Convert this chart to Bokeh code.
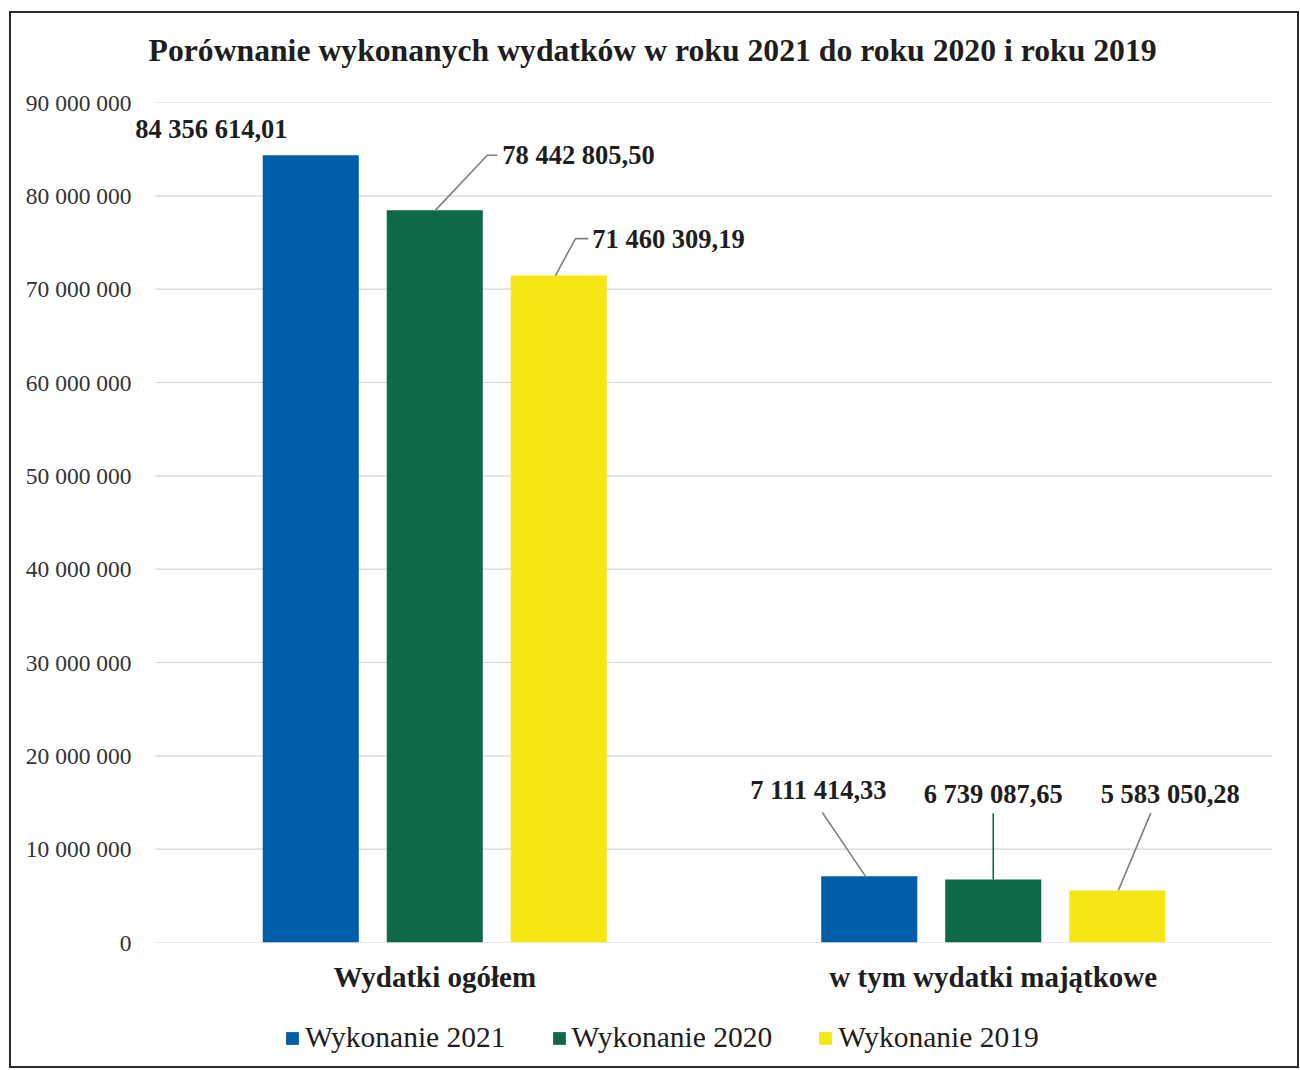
from bokeh.plotting import figure
from bokeh.models import ColumnDataSource, FixedTicker, Legend, LegendItem, LabelSet, Label
from bokeh.layouts import column
from bokeh.embed import file_html
from bokeh.resources import INLINE

# ---------------- data ----------------
title_text = "Porównanie wykonanych wydatków w roku 2021 do roku 2020 i roku 2019"
categories = ["Wydatki ogółem", "w tym wydatki majątkowe"]
series_names = ["Wykonanie 2021", "Wykonanie 2020", "Wykonanie 2019"]
values_2021 = [84356614.01, 7111414.33]
values_2020 = [78442805.50, 6739087.65]
values_2019 = [71460309.19, 5583050.28]
y_ticks = [0, 10000000, 20000000, 30000000, 40000000, 50000000,
           60000000, 70000000, 80000000, 90000000]
y_tick_labels = ["0", "10 000 000", "20 000 000", "30 000 000", "40 000 000",
                 "50 000 000", "60 000 000", "70 000 000", "80 000 000", "90 000 000"]

# ---------------- styles ----------------
colors = ["#005EA8", "#0E6946", "#F6E614"]
dodge = [-0.222, 0.0, 0.222]
bar_width = 0.172
SERIF = "Liberation Serif"
TXT = "#1e1e1e"
GRID = "#d4d4d4"
x_pad_left = 0.0448   # extra room left of the gridlines (category units)
W = 1286
MB_L, MB_R = 119, 25

# label placement offsets (x in category units, y in value units), per series, per category
label_dx = [[-0.178, -0.091], [0.121, 0.0], [0.060, 0.095]]
label_dy = [[2.85e6, 9.18e6], [5.9e6, 9.22e6], [3.95e6, 10.38e6]]
label_align = [["center", "center"], ["left", "center"], ["left", "center"]]
# leaders: (series, category, start dx from bar centre, end dx from label, end dy from label, elbow end dx or None)
leaders = [
    (1, 0, 0.001, -0.027, 0.0, -0.009),
    (2, 0, -0.006, -0.030, 0.0, -0.007),
    (0, 1, -0.007, 0.007, -2.36e6, None),
    (1, 1, 0.0, 0.0, -2.1e6, None),
    (2, 1, 0.002, -0.035, -2.1e6, None),
]
leader_colors = ["#7f7f7f", "#7f7f7f", "#7f7f7f", "#0E6946", "#7f7f7f"]


def fmt(v):
    return f"{v:,.2f}".replace(",", " ").replace(".", ",")


def strip(height):
    f = figure(width=W, height=height, x_range=(-x_pad_left, n_cat), y_range=(0, 1),
               output_backend="svg", toolbar_location=None,
               min_border_left=MB_L, min_border_right=MB_R, min_border_top=0, min_border_bottom=0)
    f.axis.visible = False
    f.grid.grid_line_color = None
    f.outline_line_color = None
    f.background_fill_color = "white"
    f.border_fill_color = "white"
    return f


all_values = [values_2021, values_2020, values_2019]
cat_x = [i + 0.5 for i in range(len(categories))]
n_cat = len(categories)

# ---------------- title strip ----------------
tf = strip(74)
tf.add_layout(Label(x=-0.0125, y=0.5, text=title_text, text_align="left", text_baseline="middle",
                    text_font=SERIF, text_font_style="bold", text_font_size="31.7px",
                    text_color=TXT))

# ---------------- main chart ----------------
p = figure(width=W, height=917, x_range=(-x_pad_left, n_cat), y_range=(0, 90000000),
           output_backend="svg", toolbar_location=None,
           min_border_top=15, min_border_left=MB_L, min_border_right=MB_R,
           min_border_bottom=62)
p.background_fill_color = "white"
p.border_fill_color = "white"
p.outline_line_color = None

# gridlines (start at the category axis origin)
p.segment(x0=[0] * len(y_ticks), x1=[n_cat] * len(y_ticks), y0=y_ticks, y1=y_ticks,
          line_color=GRID, line_width=1.2)

renderers = []
for s, vals in enumerate(all_values):
    src = ColumnDataSource(dict(x=[c + dodge[s] for c in cat_x], top=vals))
    r = p.vbar(x="x", top="top", width=bar_width, source=src,
               fill_color=colors[s], line_color=None)
    renderers.append(r)

# leader lines
xs, ys = [], []
for (s, c, sdx, edx, edy, elbow) in leaders:
    v = all_values[s][c]
    bx = cat_x[c] + dodge[s]
    lx = bx + label_dx[s][c]
    ly = v + label_dy[s][c]
    px = [bx + sdx, lx + edx]
    py = [v, ly + edy]
    if elbow is not None:
        px.append(lx + elbow)
        py.append(ly + edy)
    xs.append(px)
    ys.append(py)
p.multi_line(xs=xs, ys=ys, line_color=leader_colors, line_width=1.6)

# data labels
groups = {"center": dict(x=[], y=[], t=[]), "left": dict(x=[], y=[], t=[])}
for s, vals in enumerate(all_values):
    for c, v in enumerate(vals):
        g = groups[label_align[s][c]]
        g["x"].append(cat_x[c] + dodge[s] + label_dx[s][c])
        g["y"].append(v + label_dy[s][c])
        g["t"].append(fmt(v))
for align, g in groups.items():
    p.add_layout(LabelSet(x="x", y="y", text="t", source=ColumnDataSource(g),
                          text_align=align, text_baseline="middle",
                          text_font=SERIF, text_font_style="bold",
                          text_font_size="26.5px", text_color=TXT))

# axes
p.xaxis.ticker = FixedTicker(ticks=cat_x)
p.xaxis.major_label_overrides = {x: c for x, c in zip(cat_x, categories)}
p.xaxis.major_label_text_font = SERIF
p.xaxis.major_label_text_font_style = "bold"
p.xaxis.major_label_text_font_size = "29px"
p.xaxis.major_label_text_color = TXT
p.xaxis.major_label_standoff = 12
p.xaxis.axis_line_color = None
p.xaxis.major_tick_line_color = None
p.xaxis.minor_tick_line_color = None

p.yaxis.ticker = FixedTicker(ticks=y_ticks)
p.yaxis.major_label_overrides = {t: l for t, l in zip(y_ticks, y_tick_labels)}
p.yaxis.major_label_text_font = SERIF
p.yaxis.major_label_text_font_size = "23.5px"
p.yaxis.major_label_text_color = "#333333"
p.yaxis.major_label_standoff = -7
p.yaxis.axis_line_color = None
p.yaxis.major_tick_line_color = None
p.yaxis.minor_tick_line_color = None

p.xgrid.grid_line_color = None
p.ygrid.grid_line_color = None

# ---------------- legend strip (dummy swatch renderers sit outside the visible range) ----------------
lf = strip(62)
leg_renderers = [lf.vbar(x=[-5], top=[-5], width=0.1, fill_color=c, line_color=None) for c in colors]
legend = Legend(items=[LegendItem(label=n, renderers=[r]) for n, r in zip(series_names, leg_renderers)],
                orientation="horizontal", location=(154, 12),
                label_text_font=SERIF, label_text_font_size="29.5px", label_text_color=TXT,
                glyph_width=16, glyph_height=16, label_standoff=5, spacing=45,
                border_line_color=None, background_fill_alpha=0, margin=0, padding=2)
lf.add_layout(legend, "center")

layout = column(tf, p, lf, spacing=0,
                styles={"border": "2px solid #2a2a2a", "margin-left": "9px", "margin-top": "11px",
                        "background": "white"})

open("out.html", "w").write(file_html(layout, INLINE))
